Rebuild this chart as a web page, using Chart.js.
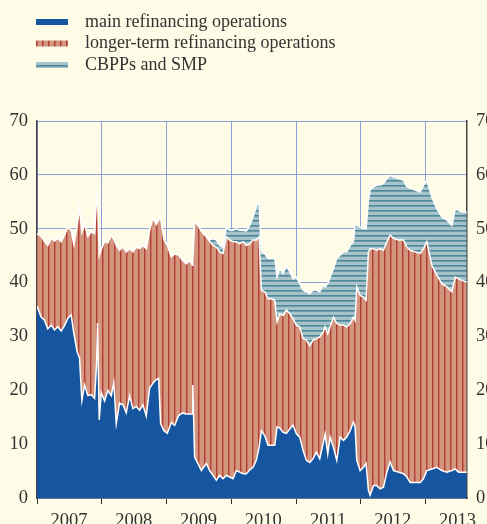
<!DOCTYPE html>
<html>
<head>
<meta charset="utf-8">
<script src="https://cdn.jsdelivr.net/npm/chart.js@4.4.1/dist/chart.umd.min.js"></script>
<style>
  html, body { margin: 0; padding: 0; background: #fefbe6; }
  canvas { display: block; }
</style>
</head>
<body>
<canvas id="myChart" width="487" height="524"></canvas>
<script>
"use strict";

// dates as decimal years
const dates = [2007.000, 2007.064, 2007.116, 2007.167, 2007.219, 2007.270, 2007.322, 2007.374, 2007.425, 2007.477,
  2007.528, 2007.569, 2007.621, 2007.657, 2007.693, 2007.734, 2007.786, 2007.837, 2007.889, 2007.920,
  2007.935, 2007.961, 2007.992, 2008.043, 2008.095, 2008.146, 2008.187, 2008.224, 2008.275, 2008.327,
  2008.378, 2008.430, 2008.481, 2008.533, 2008.584, 2008.636, 2008.687, 2008.739, 2008.790, 2008.842,
  2008.878, 2008.909, 2008.960, 2009.012, 2009.074, 2009.125, 2009.187, 2009.249,
  2009.306, 2009.357, 2009.398, 2009.406, 2009.434, 2009.486, 2009.537, 2009.615, 2009.666, 2009.718,
  2009.769, 2009.821, 2009.872, 2009.924, 2009.975, 2010.027, 2010.078, 2010.130, 2010.181, 2010.233,
  2010.284, 2010.336, 2010.387, 2010.429, 2010.465, 2010.516, 2010.568, 2010.619, 2010.671, 2010.707,
  2010.748, 2010.800, 2010.851, 2010.903, 2010.954, 2011.006, 2011.057, 2011.109, 2011.160, 2011.212,
  2011.263, 2011.315, 2011.366, 2011.418,
  2011.449, 2011.490, 2011.526, 2011.578, 2011.629, 2011.681, 2011.732, 2011.784, 2011.835, 2011.887,
  2011.912, 2011.938, 2011.990, 2012.041, 2012.082, 2012.118, 2012.144, 2012.196, 2012.247, 2012.299,
  2012.350, 2012.402, 2012.453, 2012.505, 2012.582, 2012.660, 2012.711, 2012.763, 2012.840, 2012.917,
  2012.969, 2013.020, 2013.097, 2013.175, 2013.252, 2013.329, 2013.406, 2013.458, 2013.510, 2013.561,
  2013.635];

const mro = [35.6, 33.6, 33.0, 31.4, 32.1, 31.2, 31.8, 31.0, 32.0, 33.4,
  34.0, 30.5, 27.1, 26.0, 18.1, 21.0, 19.0, 19.2, 18.5, 25.0,
  32.5, 14.5, 19.6, 18.0, 20.0, 19.0, 21.4, 13.8, 17.6, 17.3,
  15.8, 19.0, 16.6, 17.0, 16.3, 17.3, 15.2, 20.4, 21.3, 22.0,
  22.2, 13.8, 12.5, 12.0, 14.0, 13.5, 15.3, 15.8,
  15.6, 15.6, 15.6, 21.0, 7.6, 6.4, 5.1, 6.4, 5.1, 4.2,
  3.3, 4.2, 3.6, 4.2, 3.9, 3.6, 5.1, 4.8, 4.5, 4.5,
  5.2, 5.7, 7.0, 9.4, 12.5, 11.6, 9.8, 9.8, 9.8, 13.2,
  13.0, 12.2, 12.0, 12.8, 13.5, 11.9, 11.3, 8.8, 7.0, 6.6,
  7.3, 8.5, 7.3, 10.1,
  11.9, 8.2, 11.3, 9.4, 7.0, 11.3, 10.7, 11.3, 12.5, 14.1,
  13.2, 7.0, 5.1, 5.7, 6.4, 1.4, 0.5, 2.3, 2.3, 1.7,
  2.0, 4.8, 6.7, 5.1, 4.8, 4.5, 3.9, 2.9, 2.9, 2.9,
  3.6, 5.1, 5.4, 5.7, 5.1, 4.8, 5.1, 5.4, 4.8, 4.8,
  4.8];

const ltro = [13.5, 15.0, 14.6, 15.5, 16.1, 16.5, 16.4, 16.6, 16.8, 16.9,
  15.7, 16.5, 23.4, 28.0, 31.2, 29.8, 29.6, 30.2, 30.6, 30.5,
  24.0, 30.5, 26.6, 29.6, 27.4, 29.8, 26.6, 33.1, 28.4, 29.3,
  29.9, 27.3, 29.1, 29.6, 30.0, 29.6, 31.1, 29.3, 30.7, 28.8,
  29.4, 38.2, 35.5, 34.9, 30.8, 31.8, 29.8, 28.3,
  27.9, 28.5, 27.6, 23.0, 43.7, 44.2, 44.4, 42.1, 42.5, 42.7,
  43.3, 41.5, 41.8, 44.3, 44.0, 44.0, 42.5, 42.4, 43.1, 42.4,
  42.0, 42.2, 40.9, 39.1, 26.1, 26.7, 27.2, 27.2, 26.9, 19.5,
  21.2, 21.7, 22.9, 21.4, 19.8, 20.2, 20.5, 20.8, 22.3, 21.7,
  22.0, 21.1, 22.6, 20.7,
  19.9, 22.3, 20.5, 24.2, 25.4, 20.8, 21.4, 20.5, 19.9, 19.5,
  19.8, 32.2, 32.5, 31.6, 30.3, 44.3, 45.8, 44.0, 43.7, 44.6,
  44.0, 42.8, 42.1, 43.1, 43.1, 43.4, 42.7, 43.1, 42.8, 42.5,
  42.7, 42.5, 37.8, 35.7, 34.7, 34.4, 33.2, 35.6, 35.9, 35.6,
  35.3];

const cbpp = [0, 0, 0, 0, 0, 0, 0, 0, 0, 0,
  0, 0, 0, 0, 0, 0, 0, 0, 0, 0,
  0, 0, 0, 0, 0, 0, 0, 0, 0, 0,
  0, 0, 0, 0, 0, 0, 0, 0, 0, 0,
  0, 0, 0, 0, 0, 0, 0, 0,
  0, 0, 0, 0, 0, 0, 0, 0, 0.3, 1.3,
  1.3, 1.2, 1.2, 1.8, 1.8, 2.1, 2.4, 2.5, 2.1, 2.7,
  3.4, 4.3, 6.2, 6.5, 7.1, 7.1, 7.5, 7.5, 7.8, 8.3,
  8.4, 7.8, 8.3, 7.8, 7.4, 8.9, 8.0, 9.0, 9.0, 9.6,
  9.3, 9.0, 8.4, 8.7,
  7.4, 9.3, 9.2, 9.0, 12.1, 13.0, 13.6, 13.9, 14.5, 14.0,
  18.0, 11.4, 12.7, 12.7, 13.3, 9.6, 10.9, 11.5, 12.1, 11.8,
  12.4, 11.7, 11.1, 11.4, 11.4, 11.1, 11.2, 11.5, 11.5, 11.4,
  11.8, 11.4, 12.7, 12.3, 12.4, 12.4, 12.3, 12.7, 12.7, 12.7,
  13.0];

const years = [2007, 2008, 2009, 2010, 2011, 2012, 2013];
const seriesNames = ["main refinancing operations", "longer-term refinancing operations", "CBPPs and SMP"];

const ctx = document.getElementById('myChart').getContext('2d');

// striped fills: cols is a list of colours, one per pixel of the tile
function makePattern(cols, vertical){
    const n = cols.length;
    const c = document.createElement('canvas');
    c.width = vertical ? n : 1;
    c.height = vertical ? 1 : n;
    const g = c.getContext('2d');
    cols.forEach((col, i) => {
        g.fillStyle = col;
        if (vertical) g.fillRect(i, 0, 1, 1); else g.fillRect(0, i, 1, 1);
    });
    return ctx.createPattern(c, 'repeat');
}
const redFill = makePattern(['#b23f33', '#c46d5d', '#d4957f', '#d4957f', '#d4957f', '#d4957f'], true);
const tealFill = makePattern(['#4c8899', '#6f9dab', '#a6c3ca', '#a6c3ca', '#a6c3ca'], false);
const blueFill = '#1656a0';

function series(vals){
    return dates.map((d, i) => ({x: d, y: vals[i]}));
}

const serif = '"Liberation Serif", "Times New Roman", serif';

// legend drawn in the top-left corner
const topLegend = {
    id: 'topLegend',
    afterDraw(chart){
        const c = chart.ctx;
        const fills = [blueFill, redFill, tealFill];
        c.save();
        c.font = '18px ' + serif;
        c.textBaseline = 'middle';
        seriesNames.forEach((name, i) => {
            const yc = 22 + i * 21.5;
            c.fillStyle = fills[i];
            c.fillRect(36, yc - 3, 32, 6);
            c.fillStyle = '#333';
            c.fillText(name, 85, yc);
        });
        c.restore();
    }
};

const tickFont = { family: serif, size: 18.5 };

const myChart = new Chart(ctx, {
    type: 'line',
    data: {
        datasets: [{
            label: seriesNames[0],
            data: series(mro),
            backgroundColor: blueFill,
            borderColor: '#ffffff',
            borderWidth: 1.5,
            fill: 'origin'
        }, {
            label: seriesNames[1],
            data: series(ltro),
            backgroundColor: redFill,
            borderColor: '#ffffff',
            borderWidth: 1.5,
            fill: '-1'
        }, {
            label: seriesNames[2],
            data: series(cbpp),
            backgroundColor: tealFill,
            borderColor: '#ffffff',
            borderWidth: 1.5,
            fill: '-1'
        }]
    },
    options: {
        responsive: false,
        animation: false,
        devicePixelRatio: 1,
        elements: { point: { radius: 0 }, line: { tension: 0 } },
        layout: { padding: { top: 121, left: 0, right: 0, bottom: 0 } },
        plugins: {
            legend: { display: false },
            tooltip: { enabled: false }
        },
        scales: {
            x: {
                type: 'linear',
                min: 2007,
                max: 2013.64,
                afterBuildTicks: scale => { scale.ticks = years.map(v => ({value: v})); },
                afterFit: scale => { scale.height = 26; },
                grid: { color: '#8ea1d8', lineWidth: 1, tickColor: '#333', tickLength: 6 },
                border: { color: '#444', width: 1.5 },
                ticks: {
                    autoSkip: false,
                    maxRotation: 0,
                    labelOffset: 32,
                    padding: 6,
                    color: '#333',
                    font: tickFont,
                    callback: v => String(v)
                }
            },
            y: {
                stacked: true,
                min: 0,
                max: 70,
                position: 'left',
                afterFit: scale => { scale.width = 37; },
                grid: { color: '#8ea1d8', lineWidth: 1, drawTicks: false },
                border: { color: '#444', width: 1.5 },
                ticks: { stepSize: 10, padding: 9, color: '#333', font: tickFont }
            },
            y2: {
                min: 0,
                max: 70,
                position: 'right',
                afterFit: scale => { scale.width = 20; },
                grid: { display: false, drawTicks: false },
                border: { color: '#444', width: 1.5 },
                ticks: { stepSize: 10, padding: 9, color: '#333', font: tickFont }
            }
        }
    },
    plugins: [topLegend]
});
</script>
</body>
</html>
